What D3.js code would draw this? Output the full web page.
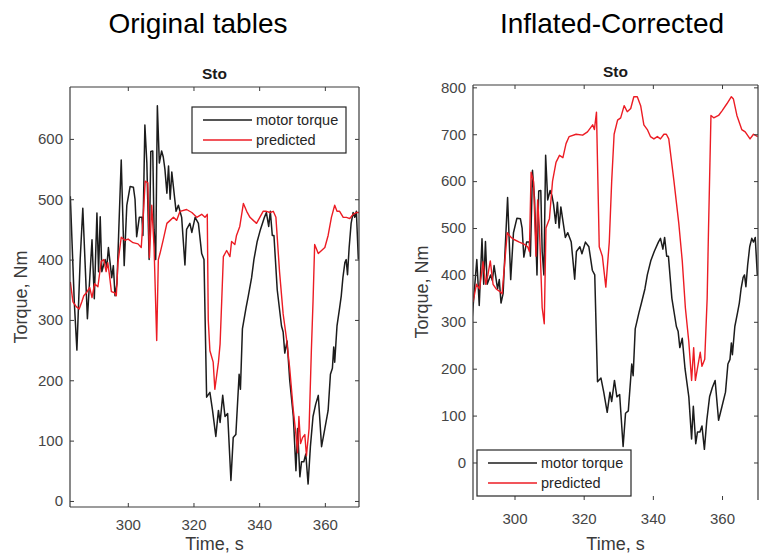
<!DOCTYPE html>
<html>
<head>
<meta charset="utf-8">
<script src="https://cdn.jsdelivr.net/npm/d3@7"></script>
<style>
  body { margin: 0; background: #fff; }
  svg { font-family: "Liberation Sans", Arial, sans-serif; }
</style>
</head>
<body>
<div id="chart"></div>
<script>
// measured motor torque (same signal in both panels)
const torqueTime = [282.5,283.7,284.5,285.5,286.3,287.7,289.1,289.8,290.6,291.1,291.6,292.1,293.1,293.6,294.1,295.1,295.6,296.1,296.7,297.2,298.0,298.9,299.7,300.7,301.7,302.2,302.7,303.5,304.3,304.6,305.2,305.8,306.5,307.0,307.6,308.0,308.5,309.0,309.6,310.3,310.8,311.3,311.9,312.4,312.9,313.4,313.9,314.7,315.4,316.4,317.4,317.9,318.9,319.5,320.5,321.5,322.5,323.2,324.0,325.0,325.8,326.8,327.6,328.1,328.9,329.6,330.4,331.4,332.1,332.9,333.9,334.3,334.9,336.0,336.7,337.7,338.4,339.4,340.4,341.6,342.2,342.9,343.4,344.0,344.5,345.5,346.8,347.3,347.8,348.5,349.3,350.4,351.2,351.7,352.4,352.9,353.6,354.2,354.9,355.6,356.4,357.2,358.0,359.0,360.0,361.0,361.7,362.3,362.7,363.0,363.7,364.5,365.0,365.5,366.1,366.5,366.9,367.4,368.0,368.6,369.1,369.6,370.2];
const torqueValues = [505,330,250,400,485,302,433,335,477,380,471,380,400,388,420,370,390,340,360,440,565,390,490,521,520,500,438,470,470,440,623,560,400,579,580,450,400,655,560,580,570,550,510,555,500,545,520,480,490,470,391,450,460,445,470,460,410,400,172,180,150,107,150,130,175,140,145,34,105,110,210,185,285,320,340,370,400,430,450,470,478,455,480,440,440,350,290,280,245,265,200,140,50,120,40,65,65,78,28,90,140,160,175,90,120,150,210,220,255,230,290,320,340,370,395,400,375,420,460,478,470,480,400];

// prediction with original tables
const origTime = [282.5,283.3,284.3,285.2,286.0,286.6,287.4,288.4,289.1,289.9,290.9,291.9,292.7,293.4,293.9,294.4,295.0,296.0,296.5,297.0,298.0,299.1,300.1,301.6,303.1,304.1,304.6,305.3,306.1,306.6,307.3,308.0,308.8,309.3,309.8,310.8,311.9,312.9,313.9,314.9,315.9,317.9,319.5,321.0,322.5,323.5,324.2,324.5,325.0,326.0,326.5,327.6,328.1,328.6,329.1,330.1,331.1,331.6,332.6,333.1,334.1,335.2,336.2,337.2,338.2,339.2,340.2,341.2,342.2,343.3,344.3,345.1,346.2,347.3,348.3,349.3,350.4,351.2,351.7,352.1,352.6,353.2,353.9,354.4,355.2,355.9,356.4,356.9,358.0,359.0,360.0,361.0,362.0,363.0,363.7,364.5,365.6,366.6,367.6,368.6,369.6,370.4];
const origPred = [363,330,322,318,330,340,345,354,337,360,355,397,400,380,395,375,347,345,340,395,437,432,434,428,426,420,463,530,527,403,490,420,266,400,410,433,460,465,470,465,480,483,478,470,475,470,475,300,249,230,185,230,260,332,405,415,405,430,425,440,455,493,480,470,465,460,470,480,480,478,480,470,380,310,270,220,150,110,80,140,95,105,110,75,120,250,330,425,410,415,420,440,470,490,480,480,470,470,468,475,478,478];

// prediction with inflated-corrected tables
const corrTime = [288.0,289.0,289.9,290.9,291.7,292.3,293.0,293.8,294.7,295.7,296.4,297.1,297.9,299.0,300.0,301.4,302.9,303.8,304.3,304.8,305.5,306.2,306.7,307.2,308.0,308.6,309.1,310.1,311.0,312.0,313.0,314.0,314.9,315.8,317.8,319.7,321.1,322.6,323.1,323.7,324.5,325.4,326.4,327.4,328.1,328.8,329.8,330.7,331.7,332.6,333.6,334.5,335.5,336.5,337.4,338.4,339.3,340.3,341.3,342.2,343.2,343.9,344.6,346.1,347.5,348.5,349.4,350.4,351.2,351.8,352.3,353.1,353.7,354.2,355.0,355.7,356.1,356.8,357.6,359.0,360.0,361.4,362.7,363.3,364.3,365.7,366.7,368.1,369.1,370.3];
const corrPred = [342,380,370,428,380,400,430,380,370,365,360,420,490,480,475,470,465,460,450,619,600,440,560,500,330,296,500,520,600,640,655,650,680,695,700,698,705,720,710,747,460,440,374,470,600,700,730,735,761,748,755,780,780,760,720,710,695,690,695,690,700,700,690,600,510,430,330,257,175,245,175,210,235,205,220,350,500,740,735,740,750,765,780,775,740,710,705,690,700,695];

const xTicks = [300, 320, 340, 360];
const yTicksOrig = [0, 100, 200, 300, 400, 500, 600];
const yTicksCorr = [0, 100, 200, 300, 400, 500, 600, 700, 800];
const seriesNames = ["motor torque", "predicted"];
const seriesColors = ["#1c1c1c", "#ec1c24"];

const svg = d3.select("#chart").append("svg")
    .attr("width", 760)
    .attr("height", 560);

function drawPanel(p) {
    let x = d3.scaleLinear().domain(p.xDomain).range([p.left, p.right]);
    let y = d3.scaleLinear().domain(p.yDomain).range([p.bottom, p.top]);
    let g = svg.append("g");

    // panel heading
    g.append("text")
        .attr("x", p.headX).attr("y", 33)
        .attr("text-anchor", "middle")
        .attr("font-size", "28px")
        .attr("fill", "#000")
        .text(p.heading);

    g.append("text")
        .attr("x", (p.left + p.right) / 2).attr("y", p.top - 8)
        .attr("text-anchor", "middle")
        .attr("font-size", "15.5px")
        .attr("font-weight", "bold")
        .attr("fill", "#1a1a1a")
        .text("Sto");

    // clipped lines
    g.append("clipPath").attr("id", p.id)
        .append("rect")
        .attr("x", p.left).attr("y", p.top)
        .attr("width", p.right - p.left).attr("height", p.bottom - p.top);

    let line = d3.line().x(d => x(d[0])).y(d => y(d[1]));
    let lines = g.append("g").attr("clip-path", `url(#${p.id})`);

    lines.append("path")
        .datum(torqueTime.map((t, i) => [t, torqueValues[i]]))
        .attr("d", line)
        .attr("fill", "none")
        .attr("stroke", seriesColors[0])
        .attr("stroke-width", 1.5)
        .attr("stroke-linejoin", "round");

    lines.append("path")
        .datum(p.predTime.map((t, i) => [t, p.predValues[i]]))
        .attr("d", line)
        .attr("fill", "none")
        .attr("stroke", seriesColors[1])
        .attr("stroke-width", 1.4)
        .attr("stroke-linejoin", "round");

    // axes with inward ticks
    let axisColor = "#3a3a3a";
    let xAxis = g.append("g")
        .attr("transform", `translate(0,${p.bottom})`)
        .call(d3.axisBottom(x).tickValues(xTicks).tickSizeInner(-4).tickSizeOuter(0).tickPadding(p.xPad));
    let xTop = g.append("g")
        .attr("transform", `translate(0,${p.top})`)
        .call(d3.axisTop(x).tickValues(xTicks).tickSizeInner(-4).tickSizeOuter(0).tickFormat(""));
    let yAxis = g.append("g")
        .attr("transform", `translate(${p.left},0)`)
        .call(d3.axisLeft(y).tickValues(p.yTicks).tickSizeInner(-4).tickSizeOuter(0).tickPadding(7));
    let yRight = g.append("g")
        .attr("transform", `translate(${p.right},0)`)
        .call(d3.axisRight(y).tickValues(p.yTicks).tickSizeInner(-4).tickSizeOuter(0).tickFormat(""));

    [xAxis, xTop, yAxis, yRight].forEach(a => {
        a.select(".domain").remove();
        a.selectAll(".tick line").attr("stroke", axisColor);
        a.selectAll(".tick text")
            .attr("font-size", "15px")
            .attr("font-family", "Liberation Sans, Arial, sans-serif")
            .attr("fill", "#454545");
    });

    // frame
    let frame = [[p.left, p.bottom, p.left, p.top], [p.left, p.top, p.right, p.top], [p.right, p.top, p.right, p.bottom]];
    if (p.bottomLine) frame.push([p.left, p.bottom, p.right, p.bottom]);
    g.selectAll(".frame").data(frame).enter().append("line")
        .attr("x1", d => d[0]).attr("y1", d => d[1])
        .attr("x2", d => d[2]).attr("y2", d => d[3])
        .attr("stroke", axisColor)
        .attr("stroke-width", 1.2);

    // axis labels
    g.append("text")
        .attr("x", (p.left + p.right) / 2).attr("y", 550)
        .attr("text-anchor", "middle")
        .attr("font-size", "18px")
        .attr("fill", "#3a3a3a")
        .text("Time, s");

    g.append("text")
        .attr("transform", `translate(${p.yLabelX},${p.yLabelY}) rotate(-90)`)
        .attr("text-anchor", "middle")
        .attr("font-size", "18px")
        .attr("fill", "#3a3a3a")
        .text("Torque, Nm");

    // legend
    let lg = g.append("g").attr("transform", `translate(${p.legendX},${p.legendY})`);
    lg.append("rect")
        .attr("width", 154).attr("height", 46)
        .attr("fill", "#fff")
        .attr("stroke", "#262626")
        .attr("stroke-width", 1.2);
    seriesNames.forEach((name, i) => {
        lg.append("line")
            .attr("x1", 11).attr("x2", 60)
            .attr("y1", 13 + i * 20).attr("y2", 13 + i * 20)
            .attr("stroke", seriesColors[i])
            .attr("stroke-width", 1.4);
        lg.append("text")
            .attr("x", 64).attr("y", 18 + i * 20)
            .attr("font-size", "14.5px")
            .attr("fill", "#262626")
            .text(name);
    });
}

drawPanel({
    id: "clipOrig", heading: "Original tables", headX: 198,
    left: 70, right: 359, top: 87, bottom: 507,
    xDomain: [282.4, 370.4], yDomain: [-10, 686],
    yTicks: yTicksOrig, predTime: origTime, predValues: origPred,
    xPad: 12, bottomLine: true,
    yLabelX: 27, yLabelY: 297,
    legendX: 192, legendY: 107
});

drawPanel({
    id: "clipCorr", heading: "Inflated-Corrected", headX: 612,
    left: 473, right: 758, top: 85, bottom: 500,
    xDomain: [288, 370.4], yDomain: [-80, 805],
    yTicks: yTicksCorr, predTime: corrTime, predValues: corrPred,
    xPad: 13, bottomLine: false,
    yLabelX: 428, yLabelY: 292,
    legendX: 477, legendY: 450
});
</script>
</body>
</html>
